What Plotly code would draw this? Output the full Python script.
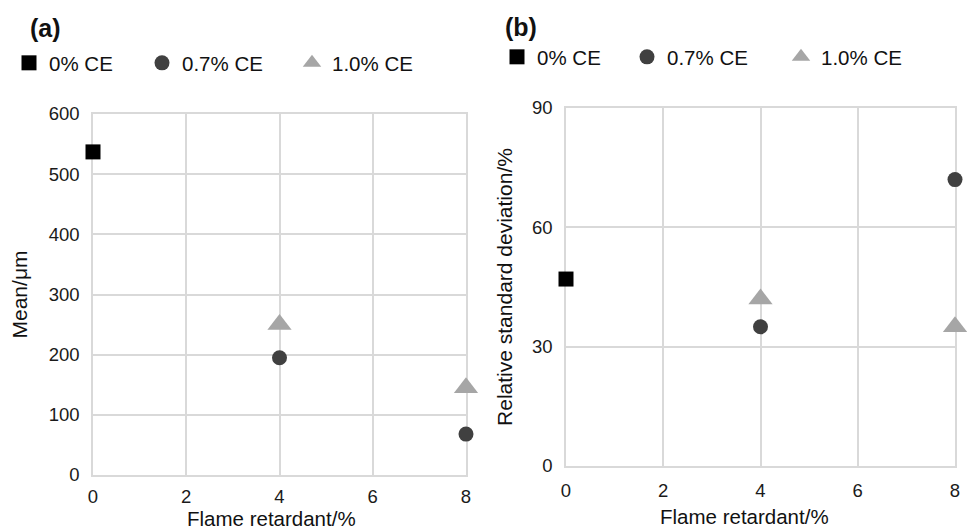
import plotly.graph_objects as go

W, H = 967, 531

series_names = ["0% CE", "0.7% CE", "1.0% CE"]
series_x = [[0], [4, 8], [4, 8]]
mean_um = [[537], [195, 68], [250, 145]]
rsd_pct = [[47], [35, 72], [42, 35]]
x_ticks = [0, 2, 4, 6, 8]
mean_ticks = [0, 100, 200, 300, 400, 500, 600]
rsd_ticks = [0, 30, 60, 90]
x_title = "Flame retardant/%"

colors = ["#000000", "#404040", "#a6a6a6"]
symbols = ["square", "circle", "triangle-up"]
sizes = [15, 15, 21]

FONT = "Liberation Sans, Arial, sans-serif"
GRID = "#d9d9d9"

fig = go.Figure()

legend_lefts_a = [9, 142, 292]
legend_lefts_b = [497, 627, 781]
legend_y_a = 1 - 63 / H
legend_y_b = 1 - 57 / H

layout_legends = {}
for i in range(3):
    la = "legend" if i == 0 else f"legend{i + 1}"
    lb = f"legend{i + 4}"
    fig.add_trace(go.Scatter(
        x=series_x[i], y=mean_um[i], mode="markers", name=series_names[i],
        marker=dict(symbol=symbols[i], size=sizes[i], color=colors[i]),
        cliponaxis=False, xaxis="x", yaxis="y", legend=la, showlegend=True))
    fig.add_trace(go.Scatter(
        x=series_x[i], y=rsd_pct[i], mode="markers", name=series_names[i],
        marker=dict(symbol=symbols[i], size=sizes[i], color=colors[i]),
        cliponaxis=False, xaxis="x2", yaxis="y2", legend=lb, showlegend=True))
    common = dict(orientation="h", xanchor="left", yanchor="middle",
                  font=dict(family=FONT, size=20.5, color="#111"),
                  bgcolor="rgba(0,0,0,0)", borderwidth=0, visible=True)
    layout_legends[la] = dict(x=legend_lefts_a[i] / W, y=legend_y_a, **common)
    layout_legends[lb] = dict(x=legend_lefts_b[i] / W, y=legend_y_b, **common)

axis_common = dict(showgrid=True, gridcolor=GRID, gridwidth=1.5,
                   showline=True, linecolor=GRID, linewidth=1.5, mirror=True,
                   zeroline=False, ticks="",
                   layer="below traces",
                   tickfont=dict(family=FONT, size=18.5, color="#1a1a1a"),
                   automargin=False)

TITLE_FONT = dict(family=FONT, size=21, color="#111")
XTITLE_FONT = dict(family=FONT, size=20.5, color="#111")

fig.update_layout(
    width=W, height=H,
    margin=dict(l=0, r=0, t=0, b=0),
    showlegend=True,
    paper_bgcolor="white", plot_bgcolor="white",
    font=dict(family=FONT),
    xaxis=dict(domain=[93 / W, 466 / W], range=[0, 8], tickvals=x_ticks,
               ticklabelstandoff=4, anchor="y", **axis_common),
    yaxis=dict(domain=[1 - 475 / H, 1 - 114 / H], range=[0, 600], tickvals=mean_ticks,
               ticklabelstandoff=8,
               title=dict(text="Mean/μm", font=TITLE_FONT, standoff=15),
               anchor="x", **axis_common),
    xaxis2=dict(domain=[566 / W, 955 / W], range=[0, 8], tickvals=x_ticks,
                ticklabelstandoff=7, anchor="y2", **axis_common),
    yaxis2=dict(domain=[1 - 466 / H, 1 - 108 / H], range=[0, 90], tickvals=rsd_ticks,
                ticklabelstandoff=8,
                title=dict(text="Relative standard deviation/%", font=TITLE_FONT, standoff=14),
                anchor="x2", **axis_common),
    annotations=[
        dict(text="<b>(a)</b>", x=28 / W, y=1 - 28 / H, xref="paper", yref="paper",
             xanchor="left", yanchor="middle", showarrow=False,
             font=dict(family=FONT, size=25, color="#111")),
        dict(text="<b>(b)</b>", x=503 / W, y=1 - 27 / H, xref="paper", yref="paper",
             xanchor="left", yanchor="middle", showarrow=False,
             font=dict(family=FONT, size=25, color="#111")),
        dict(text=x_title, x=271 / W, y=1 - 518.5 / H, xref="paper", yref="paper",
             xanchor="center", yanchor="middle", showarrow=False, borderpad=0,
             font=XTITLE_FONT),
        dict(text=x_title, x=744 / W, y=1 - 516 / H, xref="paper", yref="paper",
             xanchor="center", yanchor="middle", showarrow=False, borderpad=0,
             font=XTITLE_FONT),
    ],
    **layout_legends,
)

fig.write_html("out.html")
